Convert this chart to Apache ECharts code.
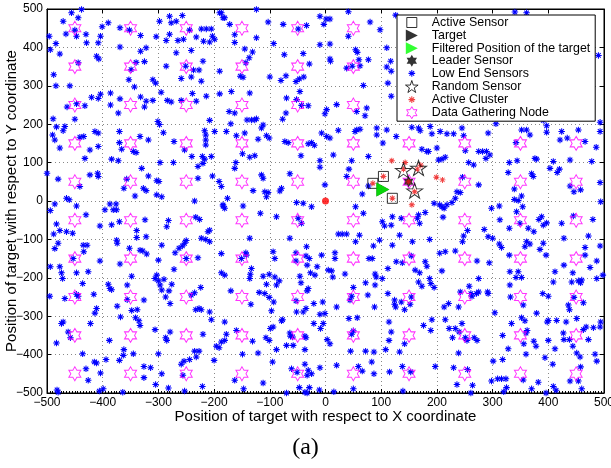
<!DOCTYPE html>
<html>
<head>
<meta charset="utf-8">
<script src="https://cdn.jsdelivr.net/npm/echarts@6/dist/echarts.min.js"></script>
<style>
html,body{margin:0;padding:0;background:#fff;}
#main{width:611px;height:468px;}
</style>
</head>
<body>
<div id="main"></div>
<script>
// axis ticks
var axisMin = -500, axisMax = 500, axisStep = 100;

// data gathering nodes sit on a regular grid
var gatherX = [-450, -350, -250, -150, -50, 50, 150, 250, 350, 450];
var gatherY = [-450, -350, -250, -150, -50, 50, 150, 250, 350, 450];

var activeSensors = [[104, 64], [85, 46], [120, 7]];
var targetPos = [[103, 30]];
var filteredPos = [[103, 30]];
var leaderSensor = [[149, 50]];
var randomSensors = [[140, 80], [167, 86], [160, 27]];
var activeCluster = [[119, 105], [143, 100], [140, 83], [165, 83], [171, 93], [104, 64], [85, 46],
  [149, 50], [160, 24], [120, 7], [155, -10], [199, 62], [210, 55]];
var baseStation = [[0, 0]];

// low end sensors
var lowEndSensors = [
  [-438,499],[-456,490],[-444,477],[-471,468],[-466,435],[-447,429],[-450,445],[-430,434],[-496,429],[-484,410],
  [-494,394],[-429,412],[-477,383],[-408,412],[-404,429],[-401,454],[-390,464],[-369,451],[-352,445],[-332,431],
  [-369,401],[-332,390],[-322,399],[-340,361],[-325,363],[-349,342],[-353,316],[-343,297],[-310,316],[-305,307],
  [-444,360],[-411,377],[-407,370],[-488,329],[-484,300],[-459,300],[-464,245],[-447,253],[-432,248],[-420,270],
  [-408,267],[-404,278],[-386,281],[-386,250],[-369,266],[-372,229],[-325,245],[-332,271],[-322,260],[-310,262],
  [-295,283],[-284,262],[-277,258],[-259,262],[-239,280],[-232,260],[-214,273],[-223,312],[-241,323],[-259,319],
  [-286,351],[-298,468],[-280,481],[-277,464],[-268,468],[-257,483],[-280,434],[-286,418],[-265,418],[-255,421],
  [-232,427],[-244,445],[-223,448],[-214,448],[-205,448],[-219,416],[-208,414],[-199,421],[-203,429],[-304,428],
  [-268,386],[-241,392],[-220,364],[-251,351],[-237,341],[-227,341],[-190,490],[-184,477],[-450,213],[-489,214],
  [-483,193],[-468,194],[-301,207],[-298,199],[-217,183],[-208,210],[-199,181],
  [-187,490],[-181,477],[-172,460],[-163,433],[-163,413],[-124,499],[-124,425],[-145,396],[-131,388],[-137,373],
  [-143,360],[-190,338],[-153,325],[-148,322],[-103,466],[-76,460],[-49,448],[-34,457],[-10,481],[1,474],
  [8,474],[-3,460],[41,493],[80,466],[98,446],[41,429],[-10,407],[8,409],[-93,410],[-74,381],
  [-40,384],[-29,357],[-100,323],[-80,314],[-71,326],[-53,311],[-47,318],[-39,323],[8,370],[9,364],
  [38,346],[48,351],[62,352],[54,394],[57,387],[60,368],[77,368],[68,301],[110,349],[117,364],
  [118,338],[112,307],[110,399],[126,484],[-190,279],[-169,285],[-136,281],[-173,233],[-163,229],[-141,211],
  [-133,211],[-127,211],[-112,198],[-115,190],[-124,214],[-170,201],[-46,285],[-70,268],[-43,249],[-52,264],
  [-71,229],[-77,213],[-31,248],[2,238],[-1,227],[20,251],[56,233],[74,242],[71,222],[23,184],
  [56,185],[62,187],[92,190],[110,185],[118,273],[-7,177],[-178,181],
  [340,492],[361,490],[490,379],[197,216],[215,216],[391,210],[397,196],[478,220],[493,205],[155,192],
  [167,190],[188,194],[206,181],[245,190],[306,201],[361,185],[397,179],[424,181],[454,185],[493,181],
  [-490,172],[-486,159],[-477,138],[-471,183],[-441,166],[-434,168],[-414,181],[-408,177],[-423,133],[-408,142],
  [-432,111],[-500,72],[-480,57],[-423,68],[-409,72],[-408,64],[-441,38],[-465,7],[-460,3],[-486,-8],
  [-494,-25],[-447,-13],[-483,-60],[-488,-86],[-477,-77],[-465,-80],[-454,-84],[-430,-36],[-405,-65],[-480,-110],
  [-486,-124],[-435,-115],[-428,-115],[-434,-132],[-453,-150],[-370,181],[-370,152],[-366,135],[-345,129],[-340,126],
  [-333,168],[-318,159],[-384,109],[-372,105],[-330,85],[-318,65],[-357,57],[-362,33],[-327,33],[-322,27],
  [-342,13],[-303,53],[-299,51],[-303,16],[-294,11],[-387,-8],[-376,-8],[-381,-23],[-375,-23],[-396,-23],
  [-384,-62],[-370,-54],[-324,-49],[-339,-77],[-339,-95],[-322,-93],[-375,-102],[-374,-110],[-352,-123],[-333,-128],
  [-328,-130],[-321,-138],[-300,-154],[-291,178],[-272,155],[-297,100],[-273,100],[-253,133],[-240,116],[-221,116],
  [-217,109],[-220,98],[-229,90],[-205,116],[-215,172],[-215,159],[-215,146],[-229,59],[-203,65],[-191,51],
  [-187,38],[-235,0],[-184,-13],[-233,-42],[-226,-48],[-282,-51],[-285,-67],[-270,-135],[-263,-123],[-257,-117],
  [-253,-110],[-250,-103],[-294,-115],[-229,-148],[-211,-80],[-223,-97],[-215,-100],[-208,-106],[-250,-150],[-208,-76],
  [-160,170],[-145,177],[-121,161],[-106,170],[-101,164],[-73,155],[-67,152],[-31,149],[-25,152],[-20,145],
  [2,168],[8,164],[53,181],[92,172],[103,151],[127,168],[-149,123],[-136,114],[-127,118],[-44,118],
  [14,120],[47,105],[77,116],[-161,100],[-163,85],[-115,68],[-112,59],[-64,71],[-10,105],[-10,88],
  [42,83],[38,64],[-130,27],[-109,24],[-103,22],[-106,11],[-82,26],[-79,33],[-176,7],[-184,-10],
  [-181,-19],[-148,-13],[-117,-32],[-52,-4],[-40,-6],[-25,-15],[-1,42],[66,18],[54,-15],[68,-32],
  [77,39],[-88,-41],[-43,-58],[-49,-45],[102,-54],[106,-65],[120,-41],[136,-45],[118,-63],[-136,-97],
  [-64,-97],[-187,-137],[-151,-150],[-143,-135],[-142,-141],[-94,-132],[-91,-150],[-53,-135],[-34,-119],[-35,-143],
  [-29,-150],[-7,-141],[17,-135],[17,-150],[23,-86],[30,-86],[38,-86],[54,-106],[61,-89],[86,-117],
  [78,-150],[84,-150],[97,-102],[120,-115],[133,-89],[156,-106],[154,-143],
  [170,183],[191,175],[218,175],[230,175],[248,170],[292,177],[352,185],[367,172],[173,135],[182,129],
  [185,129],[200,138],[251,131],[275,129],[282,129],[289,129],[295,120],[288,111],[203,107],[209,109],
  [215,114],[257,100],[266,94],[330,100],[344,105],[376,111],[379,109],[409,103],[403,85],[420,83],
  [416,74],[439,107],[478,103],[421,159],[434,164],[466,155],[486,140],[342,152],[246,62],[275,42],
  [236,24],[242,22],[233,7],[227,-4],[218,-10],[209,-15],[213,-19],[205,-10],[195,-6],[179,-30],
  [167,-36],[165,-45],[169,-58],[211,-42],[328,74],[370,71],[373,64],[339,31],[352,13],[339,4],
  [346,1],[298,-19],[312,-13],[343,-28],[354,-15],[313,-49],[349,-58],[364,-71],[330,-71],[383,-48],
  [388,-41],[391,-63],[397,-57],[374,-80],[439,39],[446,24],[458,29],[493,48],[494,-2],[424,-58],
  [480,-48],[445,-39],[255,-77],[248,-91],[246,-106],[285,-74],[292,-93],[300,-97],[187,-100],[312,-112],
  [316,-121],[361,-106],[358,-119],[367,-112],[391,-110],[385,-126],[428,-97],[472,-91],[466,-121],[493,-117],
  [205,-136],[215,-132],[233,-130],[330,-141],[396,-141],[466,-141],
  [-494,-171],[-477,-171],[-474,-187],[-472,-202],[-447,-187],[-426,-184],[-405,-156],[-369,-164],[-495,-248],[-468,-254],
  [-447,-243],[-444,-248],[-436,-215],[-416,-243],[-411,-280],[-414,-292],[-348,-196],[-390,-217],[-387,-228],[-384,-231],
  [-356,-219],[-356,-257],[-374,-274],[-348,-285],[-338,-283],[-326,-258],[-368,-302],[-341,-304],[-335,-312],[-333,-324],
  [-471,-315],[-474,-319],[-422,-319],[-462,-341],[-458,-356],[-483,-370],[-388,-363],[-436,-398],[-362,-387],[-363,-402],
  [-345,-398],[-430,-437],[-426,-467],[-415,-419],[-411,-422],[-394,-413],[-404,-448],[-370,-415],[-326,-431],[-314,-434],
  [-326,-460],[-482,-492],[-480,-498],[-406,-495],[-399,-489],[-364,-498],[-305,-478],[-294,-450],[-282,-487],[-306,-335],
  [-300,-398],[-279,-341],[-287,-356],[-285,-363],[-303,-193],[-306,-202],[-297,-219],[-294,-232],[-300,-208],[-290,-204],
  [-281,-234],[-287,-250],[-279,-267],[-276,-217],[-272,-178],[-235,-239],[-241,-245],[-224,-225],[-227,-280],[-223,-283],
  [-233,-283],[-208,-289],[-205,-309],[-220,-347],[-235,-391],[-227,-391],[-244,-413],[-254,-417],[-232,-406],[-259,-425],
  [-256,-454],[-221,-483],[-200,-415],[-196,-378],[-191,-382],[-253,-495],
  [-133,-176],[-135,-191],[-136,-202],[-187,-187],[-181,-193],[-112,-196],[-101,-191],[-91,-198],[-83,-208],[-88,-219],
  [-106,-217],[-170,-234],[-119,-238],[-109,-241],[-101,-251],[-93,-263],[-134,-269],[-97,-286],[-53,-156],[-33,-167],
  [-15,-171],[-46,-196],[-44,-213],[-27,-187],[-19,-193],[5,-180],[11,-182],[13,-198],[35,-190],[89,-190],
  [91,-198],[102,-202],[89,-219],[112,-176],[127,-158],[138,-161],[72,-213],[50,-225],[-31,-228],[-33,-234],
  [-53,-260],[-21,-267],[-5,-263],[-35,-280],[-40,-289],[-52,-289],[-10,-295],[-1,-293],[20,-276],[47,-248],
  [76,-245],[44,-258],[88,-276],[124,-258],[124,-269],[126,-276],[136,-263],[112,-241],[142,-283],[-77,-309],
  [-79,-312],[-181,-315],[-160,-337],[-178,-347],[-181,-363],[-187,-367],[-131,-365],[-107,-356],[-101,-363],[-94,-328],
  [-99,-332],[-64,-344],[-63,-352],[-59,-354],[-37,-352],[-35,-356],[-21,-319],[-4,-319],[-9,-332],[-70,-376],
  [-58,-376],[-37,-387],[3,-361],[8,-372],[-121,-396],[-88,-387],[-149,-399],[42,-306],[57,-304],[47,-347],
  [50,-338],[45,-391],[72,-391],[87,-393],[114,-315],[118,-341],[108,-387],[114,-363],[133,-393],[142,-372],
  [-95,-419],[-61,-437],[-51,-446],[-37,-425],[-31,-441],[-33,-454],[-25,-450],[-10,-434],[20,-428],[59,-431],
  [66,-443],[83,-419],[87,-450],[115,-445],[138,-431],[-163,-467],[-147,-489],[-112,-474],[-47,-486],[-29,-486],
  [-11,-492],[-37,-498],[-33,-500],[-70,-500],[50,-489],[139,-495],[153,-445],[15,-497],[320,-497],
  [179,-158],[182,-170],[161,-180],[169,-187],[187,-202],[189,-215],[195,-225],[167,-211],[173,-222],[209,-182],
  [272,-156],[294,-161],[275,-202],[258,-222],[242,-237],[239,-276],[261,-241],[263,-248],[271,-241],[275,-237],
  [292,-241],[291,-237],[221,-267],[213,-276],[331,-184],[346,-184],[342,-199],[352,-199],[331,-219],[332,-250],
  [355,-271],[390,-241],[400,-248],[412,-184],[428,-167],[444,-187],[475,-173],[487,-156],[409,-211],[442,-211],
  [454,-208],[458,-213],[460,-206],[487,-202],[498,-193],[436,-271],[438,-283],[446,-251],[463,-265],[154,-250],
  [152,-269],[191,-309],[189,-337],[176,-324],[215,-309],[222,-332],[233,-332],[240,-341],[245,-319],[228,-356],
  [251,-356],[267,-356],[272,-363],[254,-363],[239,-396],[304,-291],[352,-304],[358,-312],[334,-319],[362,-337],
  [360,-344],[379,-292],[318,-350],[356,-372],[374,-365],[378,-378],[328,-385],[360,-399],[400,-311],[415,-311],
  [432,-315],[398,-315],[451,-306],[463,-335],[468,-328],[481,-330],[493,-328],[494,-315],[427,-344],[428,-361],
  [438,-361],[400,-363],[412,-385],[472,-361],[451,-396],[457,-406],[444,-378],[484,-399],[487,-417],[394,-408],
  [301,-417],[318,-413],[408,-425],[458,-432],[197,-431],[230,-434],[255,-439],[298,-469],[309,-463],[316,-463],
  [324,-463],[355,-466],[382,-472],[325,-486],[236,-478],[264,-480],[261,-500],[370,-489],[396,-500],[409,-483],
  [414,-493],[439,-469],[460,-489],[454,-469]
];

// marker shapes
var asteriskPath = 'path://M4.2,0 L5.8,0 L5.8,10 L4.2,10 Z M0,4.2 L10,4.2 L10,5.8 L0,5.8 Z ' +
  'M2.07,0.93 L9.07,7.93 L7.93,9.07 L0.93,2.07 Z M7.93,0.93 L9.07,2.07 L2.07,9.07 L0.93,7.93 Z';
var hexagramPath = 'path://M5,0 L6.443,2.5 L9.33,2.5 L7.887,5 L9.33,7.5 L6.443,7.5 L5,10 L3.557,7.5 ' +
  'L0.67,7.5 L2.113,5 L0.67,2.5 L3.557,2.5 Z';
var pentagramPath = 'path://M5,0 L6.123,3.455 L9.755,3.455 L6.817,5.59 L7.939,9.045 L5,6.91 L2.061,9.045 ' +
  'L3.183,5.59 L0.245,3.455 L3.877,3.455 Z';
var trianglePath = 'path://M0,0 L10,5 L0,10 Z';
var squarePath = 'path://M0,0 L10,0 L10,10 L0,10 Z';
// legend versions padded with invisible points so they draw smaller
var pad = function (p, a, b) { return p + ' M' + a + ',' + a + ' L' + (a + 0.01) + ',' + a + ' M' + b + ',' + b + ' L' + (b - 0.01) + ',' + b; };

var gatherNodes = [];
gatherX.forEach(function (x) {
  gatherY.forEach(function (y) { gatherNodes.push([x, y]); });
});

var minus = function (v) { return String(v).replace('-', '\u2212'); };
var font = 'Liberation Sans, Arial, Helvetica, sans-serif';

var chart = echarts.init(document.getElementById('main'));
chart.setOption({
  animation: false,
  backgroundColor: '#fff',
  grid: { left: 47, right: 7, top: 9, bottom: 75, outerBoundsMode: 'none', containLabel: false,
    show: true, borderColor: '#000', borderWidth: 1, backgroundColor: 'transparent' },
  legend: {
    left: 397, top: 15, orient: 'vertical',
    itemWidth: 22, itemHeight: 12, itemGap: 0.6,
    padding: [1, 5, 2, 8],
    backgroundColor: '#fff', borderColor: '#000', borderWidth: 1,
    selectedMode: false,
    textStyle: { color: '#000', fontSize: 12.4, fontFamily: font, padding: [0, 0, 0, 4] },
    data: [
      { name: 'Active Sensor', icon: pad(squarePath, -1, 11), itemStyle: { color: 'rgba(0,0,0,0)', borderColor: '#000', borderWidth: 1 } },
      { name: 'Target', icon: trianglePath, itemStyle: { color: '#000' } },
      { name: 'Filtered Position of the target', icon: trianglePath, itemStyle: { color: '#00ff00' } },
      { name: 'Leader Sensor', icon: hexagramPath, itemStyle: { color: '#000' } },
      { name: 'Low End Sensors', icon: pad(asteriskPath, -4, 14), itemStyle: { color: '#0000ff' } },
      { name: 'Random Sensor', icon: pentagramPath, itemStyle: { color: 'rgba(0,0,0,0)', borderColor: '#000', borderWidth: 1 } },
      { name: 'Active Cluster', icon: pad(asteriskPath, -4, 14), itemStyle: { color: '#ee1111' } },
      { name: 'Data Gathering Node', icon: hexagramPath, itemStyle: { color: 'rgba(0,0,0,0)', borderColor: '#ff00ff', borderWidth: 1 } }
    ]
  },
  xAxis: [{
    type: 'value', min: axisMin, max: axisMax, interval: axisStep, position: 'bottom',
    name: 'Position of target with respect to X coordinate', nameLocation: 'middle', nameGap: 16,
    nameMoveOverlap: false,
    nameTextStyle: { color: '#000', fontSize: 15, fontFamily: font },
    axisLine: { show: true, onZero: false, lineStyle: { color: '#000', width: 1 } },
    axisTick: { show: true, inside: true, length: 4, lineStyle: { color: '#000' } },
    minorTick: { show: true, splitNumber: 20, length: 2, lineStyle: { color: '#000' } },
    axisLabel: { color: '#000', fontSize: 12, fontFamily: font, margin: 4, formatter: minus },
    splitLine: { show: true, lineStyle: { color: '#888', type: [1, 3], width: 1 } }
  }, {
    type: 'value', min: axisMin, max: axisMax, interval: axisStep, position: 'top',
    axisLine: { show: true, onZero: false, lineStyle: { color: '#000' } },
    axisTick: { show: true, inside: true, length: 4, lineStyle: { color: '#000' } },
    axisLabel: { show: false }, splitLine: { show: false }
  }],
  yAxis: [{
    type: 'value', min: axisMin, max: axisMax, interval: axisStep, position: 'left',
    name: 'Position of target with respect to Y coordinate', nameLocation: 'middle', nameGap: 28,
    nameMoveOverlap: false,
    nameTextStyle: { color: '#000', fontSize: 15, fontFamily: font },
    axisLine: { show: true, onZero: false, lineStyle: { color: '#000', width: 1 } },
    axisTick: { show: true, inside: true, length: 4, lineStyle: { color: '#000' } },
    axisLabel: { color: '#000', fontSize: 12, fontFamily: font, margin: 4, formatter: minus },
    splitLine: { show: true, lineStyle: { color: '#888', type: [1, 3], width: 1 } }
  }, {
    type: 'value', min: axisMin, max: axisMax, interval: axisStep, position: 'right',
    axisLine: { show: true, onZero: false, lineStyle: { color: '#000' } },
    axisTick: { show: true, inside: true, length: 4, lineStyle: { color: '#000' } },
    axisLabel: { show: false }, splitLine: { show: false }
  }],
  graphic: [{
    type: 'text', left: 'center', top: 436,
    style: { text: '(a)', fill: '#000', font: '24px "Liberation Serif", "Times New Roman", serif' }
  }],
  series: [
    { name: 'Low End Sensors', type: 'scatter', z: 2, symbol: asteriskPath, symbolSize: 6.5,
      itemStyle: { color: '#0000ff', opacity: 1 }, data: lowEndSensors },
    { name: 'Data Gathering Node', type: 'scatter', z: 3, symbol: hexagramPath, symbolSize: [12, 14],
      itemStyle: { color: 'rgba(0,0,0,0)', borderColor: '#ff00ff', borderWidth: 1 }, data: gatherNodes },
    { name: 'Leader Sensor', type: 'scatter', z: 2.5, symbol: hexagramPath, symbolSize: [10, 12],
      itemStyle: { color: '#000' }, data: leaderSensor },
    { name: 'base', type: 'scatter', z: 4, symbol: 'circle', symbolSize: 7,
      itemStyle: { color: '#ff0000' }, data: baseStation },
    { name: 'Active Sensor', type: 'scatter', z: 4, symbol: squarePath, symbolSize: 10,
      itemStyle: { color: 'rgba(0,0,0,0)', borderColor: '#000', borderWidth: 1 }, data: activeSensors },
    { name: 'Active Cluster', type: 'scatter', z: 5, symbol: asteriskPath, symbolSize: 6,
      itemStyle: { color: '#ee1111' }, data: activeCluster },
    { name: 'Random Sensor', type: 'scatter', z: 6, symbol: pentagramPath, symbolSize: [16, 15],
      itemStyle: { color: 'rgba(0,0,0,0)', borderColor: '#000', borderWidth: 1 }, data: randomSensors },
    { name: 'Target', type: 'scatter', z: 6, symbol: trianglePath, symbolSize: [13, 14],
      itemStyle: { color: '#000' }, data: targetPos },
    { name: 'Filtered Position of the target', type: 'scatter', z: 7, symbol: trianglePath, symbolSize: [13, 14],
      itemStyle: { color: '#00ff00' }, data: filteredPos }
  ]
});
</script>
</body>
</html>
